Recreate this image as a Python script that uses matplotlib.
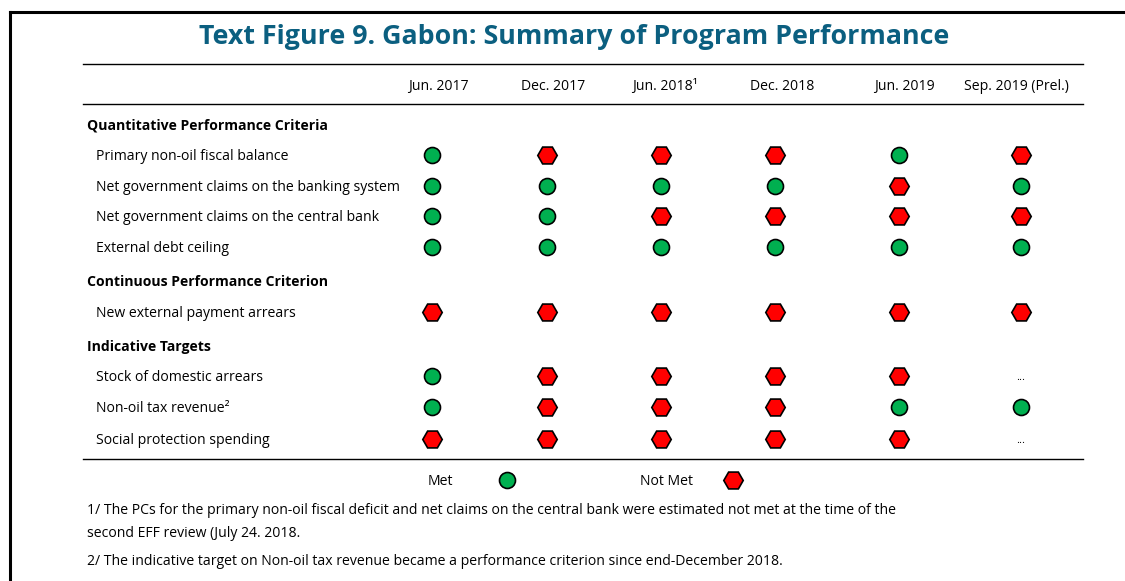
import matplotlib
matplotlib.use("Agg")
import matplotlib.pyplot as plt

plt.rcParams['font.family'] = ['Open Sans', 'DejaVu Sans']

title = "Text Figure 9. Gabon: Summary of Program Performance"
periods = ["Jun. 2017", "Dec. 2017", "Jun. 2018\u00b9", "Dec. 2018", "Jun. 2019", "Sep. 2019 (Prel.)"]

sections = ["Quantitative Performance Criteria", "Continuous Performance Criterion", "Indicative Targets"]
criteria = [
    ["Primary non-oil fiscal balance",
     "Net government claims on the banking system",
     "Net government claims on the central bank",
     "External debt ceiling"],
    ["New external payment arrears"],
    ["Stock of domestic arrears",
     "Non-oil tax revenue\u00b2",
     "Social protection spending"],
]
# M = met, N = not met, "..." = not available
status = [
    ["M", "N", "N", "N", "M", "N"],
    ["M", "M", "M", "M", "N", "M"],
    ["M", "M", "N", "N", "N", "N"],
    ["M", "M", "M", "M", "M", "M"],
    ["N", "N", "N", "N", "N", "N"],
    ["M", "N", "N", "N", "N", "..."],
    ["M", "N", "N", "N", "M", "M"],
    ["N", "N", "N", "N", "N", "..."],
]
footnotes = [
    "1/ The PCs for the primary non-oil fiscal deficit and net claims on the central bank were estimated not met at the time of the",
    "second EFF review (July 24. 2018.",
    "2/ The indicative target on Non-oil tax revenue became a performance criterion since end-December 2018.",
]

GREEN = "#00b050"
RED = "#ff0000"
TEAL = "#0b5f80"
FS = 10.1
DY = 1.5  # nudge text down a bit so it sits level with the markers

fig = plt.figure(figsize=(11.25, 5.81), dpi=100)
ax = fig.add_axes([0, 0, 1, 1])
ax.set_xlim(0, 1125)
ax.set_ylim(581, 0)
ax.axis("off")

# outer frame (only top and left edges show)
ax.plot([10, 1125], [12, 12], color="black", lw=2.2)
ax.plot([10, 10], [12, 581], color="black", lw=2.2)

ax.text(574, 36 + DY, title, ha="center", va="center", fontsize=19.3, fontweight="bold", color=TEAL)

x0, x1 = 83, 1083
for y in (64, 104, 459):
    ax.plot([x0, x1], [y, y], color="black", lw=1)

col_x = [432, 547, 661, 775, 899, 1021]
head_x = [438, 553, 665, 782, 904, 1016]
for hx, p in zip(head_x, periods):
    ax.text(hx, 85 + DY, p, ha="center", va="center", fontsize=FS)

def draw_mark(x, y, s):
    if s == "M":
        ax.plot(x, y, marker="o", ms=11.5, mfc=GREEN, mec="black", mew=1.2)
    elif s == "N":
        ax.plot(x, y, marker="H", ms=14, mfc=RED, mec="black", mew=1.2)
    else:
        ax.text(x, y + DY, s, ha="center", va="center", fontsize=8)

sec_y = [124, 281, 345]
row_y = [[155, 186, 216, 247], [312], [376, 407, 439]]
k = 0
for sy, sec, items, ys in zip(sec_y, sections, criteria, row_y):
    ax.text(87, sy + DY, sec, ha="left", va="center", fontsize=FS, fontweight="bold")
    for label, ry in zip(items, ys):
        ax.text(96, ry + DY, label, ha="left", va="center", fontsize=FS)
        for cx, s in zip(col_x, status[k]):
            draw_mark(cx, ry, s)
        k += 1

# legend
ax.text(440, 480 + DY, "Met", ha="center", va="center", fontsize=FS)
draw_mark(507, 480, "M")
ax.text(666, 480 + DY, "Not Met", ha="center", va="center", fontsize=FS)
draw_mark(733, 480, "N")

for fy, note in zip([509, 532, 560], footnotes):
    ax.text(87, fy + DY, note, ha="left", va="center", fontsize=FS)

fig.savefig("out.png", dpi=100)
